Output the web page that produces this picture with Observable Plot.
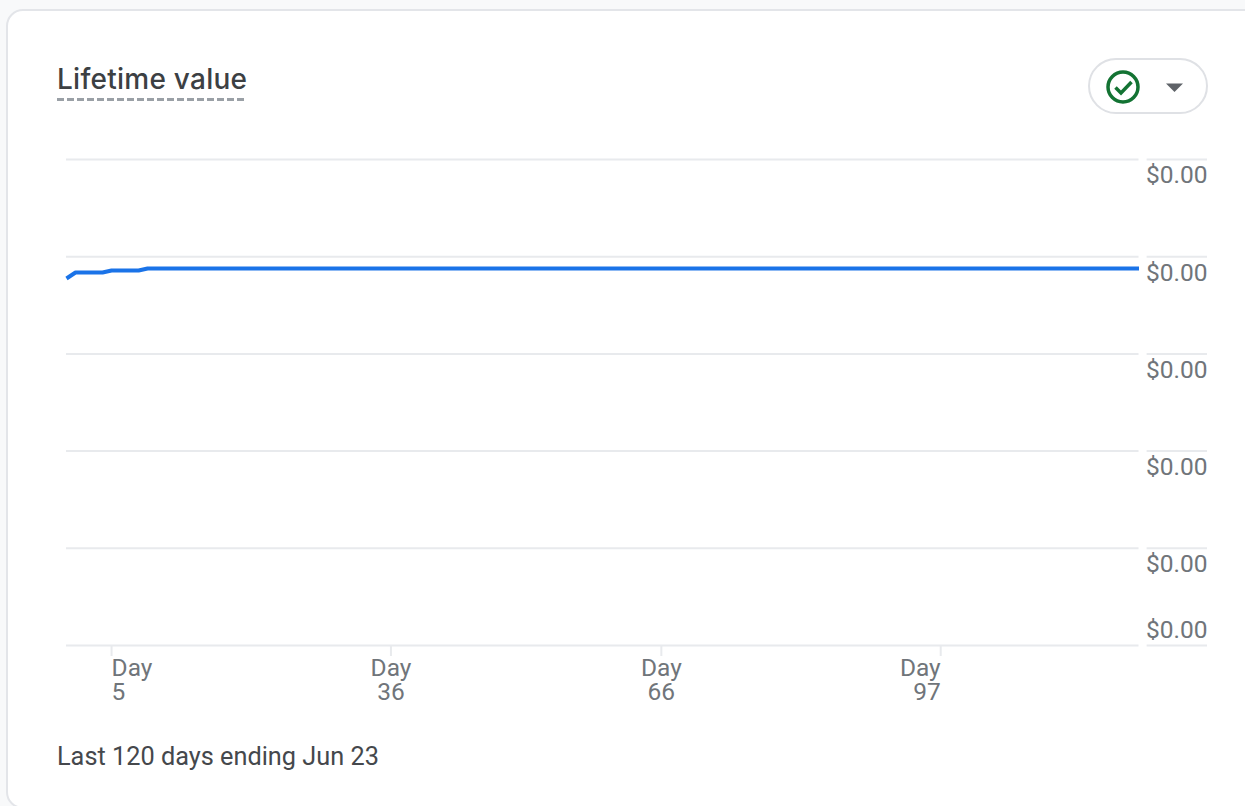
<!DOCTYPE html>
<html>
<head>
<meta charset="utf-8">
<script src="https://cdn.jsdelivr.net/npm/d3@7"></script>
<script src="https://cdn.jsdelivr.net/npm/@observablehq/plot@0.6"></script>
<style>
html,body{margin:0;padding:0;width:1245px;height:806px;overflow:hidden;background:#f8f9fa;}
#card{position:absolute;left:6px;top:9px;width:1300px;height:800px;box-sizing:border-box;background:#fff;border:2px solid #e3e5e9;border-radius:17px;}
#title{position:absolute;left:57px;top:61px;font:500 28px/36px Inter,sans-serif;color:#3c4043;letter-spacing:.25px;white-space:nowrap;padding-bottom:4px;background:repeating-linear-gradient(to right,#9aa0a6 0 7px,transparent 7px 10px) left bottom/100% 3px no-repeat;}
#chip{position:absolute;left:1088px;top:58px;width:120px;height:56px;box-sizing:border-box;border:2px solid #dfe1e5;border-radius:28px;background:#fff;}
#chart{position:absolute;left:0;top:140px;width:1245px;}
#chart svg{display:block;}
#caption{position:absolute;left:57px;top:741px;font:400 25.3px/32px Roboto,sans-serif;color:#45484c;white-space:nowrap;}
</style>
</head>
<body>
<div id="card"></div>
<div id="title">Lifetime value</div>
<div id="chip">
<svg width="116" height="52" viewBox="0 0 116 52">
<circle cx="33" cy="27" r="15" fill="none" stroke="#137333" stroke-width="3.500"/>
<path d="M25.500 27.500l5.500 5.500 10.500-11" fill="none" stroke="#137333" stroke-width="3.500"/>
<path d="M76 23.500h17l-8.500 8.500z" fill="#5f6368"/>
</svg>
</div>
<div id="chart"></div>
<div id="caption">Last 120 days ending Jun 23</div>
<script>
const days = [0, 1, 4, 5, 8, 9, 119];
const values = [0.003776, 0.003837, 0.003837, 0.003858, 0.003858, 0.003879, 0.003879];
const yTicks = [0, 0.001, 0.002, 0.003, 0.004, 0.005];
const yLabels = ["$0.00", "$0.00", "$0.00", "$0.00", "$0.00", "$0.00"];
const xTicks = [5, 36, 66, 97];
const xLabels = ["Day\n5", "Day\n36", "Day\n66", "Day\n97"];

const series = days.map((day, i) => ({day, value: values[i]}));
const xTable = xTicks.map((day, i) => ({day, label: xLabels[i]}));
const yTable = yTicks.map((tick, i) => ({tick, label: yLabels[i]}));
const xEnd = 126.6;
const textStyle = {fontFamily: "Roboto, sans-serif", fontSize: 24.5, fill: "#70757a"};

const chart = Plot.plot({
  width: 1245,
  height: 570,
  marginTop: 19,
  marginBottom: 65,
  marginLeft: 66,
  marginRight: 38,
  style: {background: "transparent", overflow: "visible"},
  x: {domain: [0, xEnd]},
  y: {domain: [0, 0.005], axis: null},
  marks: [
    Plot.ruleY(yTicks, {x1: 0, x2: 119, stroke: "#e8eaed", strokeWidth: 2}),
    Plot.ruleY(yTicks, {x1: 119.9, x2: xEnd, stroke: "#e8eaed", strokeWidth: 2}),
    Plot.axisX({ticks: xTicks, tickSize: 11, tickFormat: () => "", label: null, stroke: "#e8eaed", strokeWidth: 2, strokeOpacity: 1}),
    Plot.line(series, {x: "day", y: "value", stroke: "#1a73e8", strokeWidth: 4, curve: "linear", strokeLinecap: "butt"}),
    Plot.text(yTable.slice(1), {x: xEnd, y: "tick", text: "label", textAnchor: "end", dy: 16, ...textStyle}),
    Plot.text(yTable.slice(0, 1), {x: xEnd, y: "tick", text: "label", textAnchor: "end", dy: -15, ...textStyle}),
    Plot.text(xTable.slice(0, 1), {x: "day", y: yTicks[0], text: "label", textAnchor: "start", lineAnchor: "top", lineHeight: 0.98, dy: 13.500, ...textStyle}),
    Plot.text(xTable.slice(1, 3), {x: "day", y: yTicks[0], text: "label", textAnchor: "middle", lineAnchor: "top", lineHeight: 0.98, dy: 13.500, ...textStyle}),
    Plot.text(xTable.slice(3), {x: "day", y: yTicks[0], text: "label", textAnchor: "end", lineAnchor: "top", lineHeight: 0.98, dy: 13.500, ...textStyle})
  ]
});
document.getElementById("chart").appendChild(chart);
</script>
</body>
</html>
